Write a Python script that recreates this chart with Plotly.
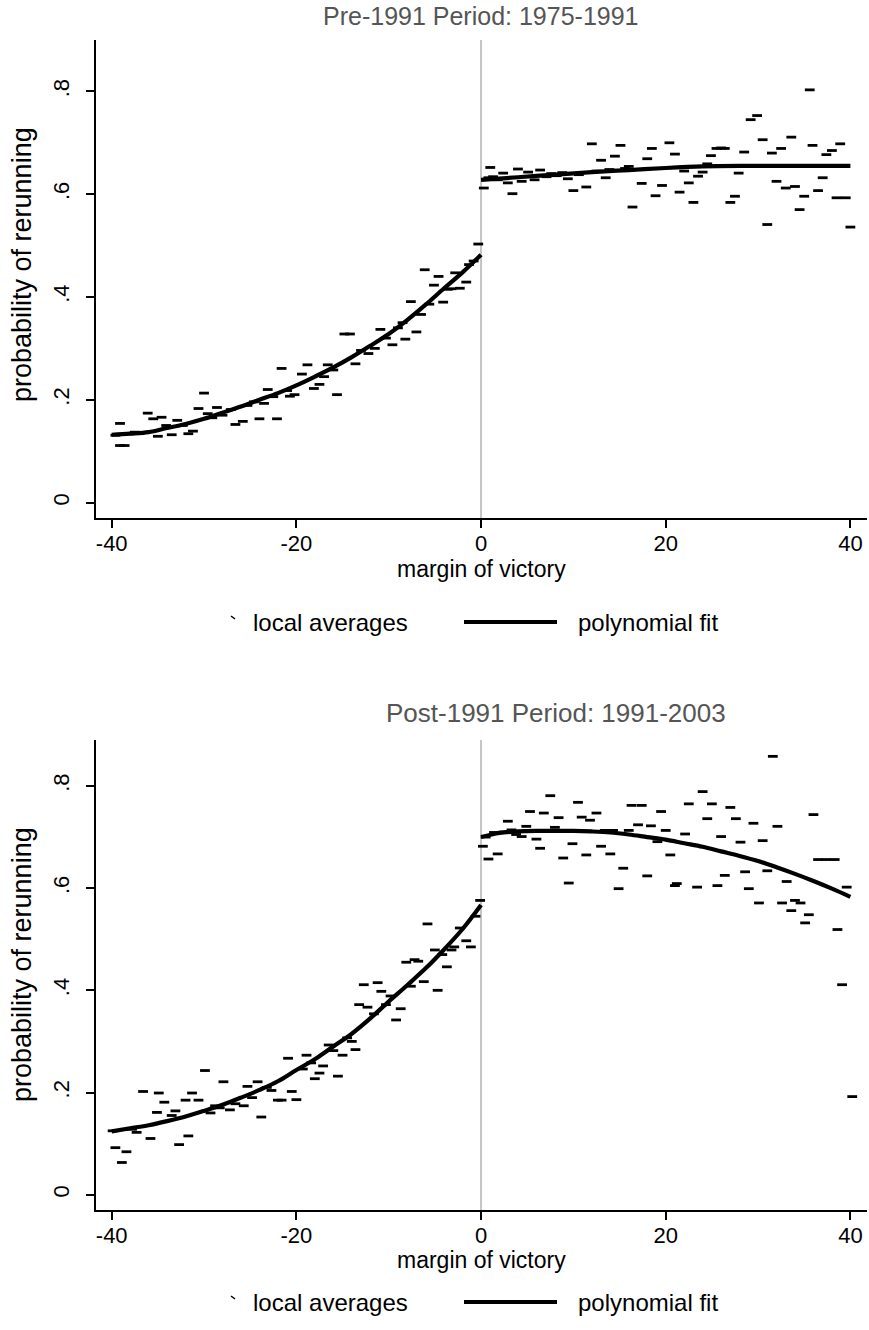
import plotly.graph_objects as go

# ---------------- data ----------------
top_left_x = [-39.6, -39.1, -38.6, -39.1, -38.1, -37.5, -37.0, -36.1, -35.5, -35.0, -34.6, -34.1, -33.5,
              -32.9, -32.3, -31.7, -31.2, -30.6, -30.0, -29.6, -29.1, -28.6, -28.0, -27.1, -26.6, -25.8,
              -25.3, -24.6, -24.0, -23.5, -23.1, -22.5, -22.1, -21.6, -21.0, -20.7, -20.2, -19.4, -18.8,
              -18.1, -17.5, -17.0, -16.6, -16.0, -15.6, -14.8, -14.2, -13.6, -13.0, -12.2, -11.5, -10.9,
              -10.3, -9.6, -9.0, -8.5, -8.2, -7.6, -7.0, -6.5, -6.1, -5.6, -5.1, -4.6, -4.1, -3.6, -3.2,
              -2.8, -2.3, -1.6, -1.3, -0.8, -0.3]
top_left_y = [0.131, 0.111, 0.111, 0.154, 0.134, 0.137, 0.135, 0.174, 0.163, 0.129, 0.166, 0.150, 0.132,
              0.160, 0.150, 0.134, 0.139, 0.183, 0.213, 0.173, 0.165, 0.185, 0.170, 0.181, 0.152, 0.158,
              0.189, 0.196, 0.163, 0.193, 0.220, 0.206, 0.163, 0.261, 0.218, 0.207, 0.210, 0.250, 0.268,
              0.222, 0.230, 0.245, 0.268, 0.258, 0.210, 0.328, 0.328, 0.270, 0.296, 0.290, 0.300, 0.337,
              0.320, 0.307, 0.340, 0.350, 0.318, 0.391, 0.332, 0.366, 0.453, 0.386, 0.423, 0.440, 0.390,
              0.415, 0.416, 0.447, 0.417, 0.429, 0.463, 0.470, 0.503]
top_right_x = [0.3, 0.8, 1.0, 1.3, 1.8, 2.4, 2.9, 3.4, 4.0, 4.4, 5.1, 5.8, 6.4, 7.1, 7.6, 8.2, 8.8, 9.4,
               10.0, 10.6, 11.4, 12.0, 12.5, 13.0, 13.5, 13.9, 14.5, 15.1, 15.6, 16.0, 16.4, 17.0, 17.4,
               18.0, 18.5, 18.9, 19.6, 20.4, 21.0, 21.5, 22.0, 22.5, 23.0, 23.5, 24.0, 24.5, 24.9, 25.5,
               26.0, 26.4, 27.0, 27.5, 27.9, 28.5, 29.2, 29.9, 30.5, 31.0, 31.5, 32.0, 32.5, 33.0, 33.6,
               34.0, 34.5, 35.0, 35.6, 35.9, 36.5, 37.0, 37.4, 38.0, 38.5, 38.9, 39.5, 40.0]
top_right_y = [0.612, 0.632, 0.652, 0.634, 0.628, 0.641, 0.622, 0.601, 0.649, 0.625, 0.643, 0.628, 0.647,
               0.634, 0.640, 0.636, 0.642, 0.630, 0.607, 0.638, 0.614, 0.698, 0.645, 0.666, 0.632, 0.648,
               0.674, 0.695, 0.650, 0.654, 0.575, 0.648, 0.621, 0.669, 0.689, 0.597, 0.617, 0.700, 0.678,
               0.604, 0.645, 0.622, 0.584, 0.635, 0.643, 0.659, 0.675, 0.689, 0.690, 0.689, 0.584, 0.596,
               0.641, 0.682, 0.745, 0.753, 0.706, 0.541, 0.680, 0.625, 0.689, 0.612, 0.711, 0.615, 0.570,
               0.596, 0.803, 0.695, 0.607, 0.632, 0.677, 0.685, 0.593, 0.698, 0.593, 0.536]
top_fit_left_x = [-40, -38, -36, -34, -32, -30, -28, -26, -24, -22, -20, -18, -16, -14, -12, -10, -8, -6, -4, -2, 0]
top_fit_left_y = [0.132, 0.134, 0.137, 0.145, 0.153, 0.163, 0.175, 0.187, 0.200, 0.213, 0.228, 0.245,
                  0.263, 0.283, 0.305, 0.328, 0.355, 0.385, 0.417, 0.448, 0.482]
top_fit_right_x = [0, 4, 8, 12, 16, 20, 24, 28, 32, 36, 40]
top_fit_right_y = [0.628, 0.633, 0.638, 0.643, 0.647, 0.651, 0.654, 0.655, 0.655, 0.655, 0.655]

bot_left_x = [-39.9, -39.6, -38.9, -38.4, -37.8, -37.3, -36.6, -35.8, -35.1, -34.9, -34.3, -33.5, -33.1,
              -32.7, -32.0, -31.7, -31.3, -30.6, -29.9, -29.3, -28.8, -28.3, -27.9, -27.2, -26.6, -25.7,
              -25.3, -24.8, -24.2, -23.8, -23.2, -22.7, -22.0, -21.6, -20.9, -20.5, -20.0, -19.3, -18.9,
              -18.4, -18.0, -17.5, -17.1, -16.5, -16.0, -15.5, -15.0, -14.5, -14.0, -13.6, -13.2, -12.7,
              -12.3, -11.6, -11.2, -10.8, -10.3, -9.8, -9.2, -8.7, -8.1, -7.6, -7.2, -6.8, -6.2, -5.8,
              -5.0, -4.7, -4.2, -3.7, -3.2, -2.9, -2.3, -1.6, -1.1, -0.6, -0.1]
bot_left_y = [0.125, 0.092, 0.063, 0.084, 0.128, 0.122, 0.202, 0.110, 0.161, 0.199, 0.181, 0.155, 0.164,
              0.098, 0.185, 0.115, 0.199, 0.185, 0.243, 0.160, 0.174, 0.170, 0.221, 0.166, 0.178, 0.174,
              0.212, 0.190, 0.221, 0.152, 0.210, 0.204, 0.185, 0.185, 0.267, 0.202, 0.186, 0.246, 0.273,
              0.258, 0.227, 0.238, 0.252, 0.293, 0.282, 0.232, 0.273, 0.307, 0.300, 0.284, 0.372, 0.411,
              0.367, 0.354, 0.415, 0.398, 0.372, 0.389, 0.342, 0.364, 0.455, 0.408, 0.460, 0.457, 0.417,
              0.530, 0.479, 0.400, 0.470, 0.446, 0.479, 0.485, 0.522, 0.497, 0.485, 0.545, 0.576]
bot_right_x = [0.2, 0.5, 0.8, 1.4, 1.8, 2.4, 2.9, 3.3, 3.8, 4.4, 4.9, 5.3, 6.0, 6.4, 6.8, 7.5, 8.0, 8.4,
               8.9, 9.5, 9.9, 10.5, 10.9, 11.4, 11.8, 12.5, 13.0, 13.4, 14.0, 14.3, 14.9, 15.4, 16.0, 16.3,
               17.0, 17.4, 18.0, 18.4, 19.1, 19.5, 20.0, 20.5, 21.0, 21.2, 22.1, 22.5, 23.4, 24.0, 24.5,
               25.0, 25.6, 26.0, 26.4, 27.0, 27.6, 28.1, 28.6, 29.0, 29.5, 30.1, 30.5, 31.0, 31.6, 32.1,
               32.6, 33.1, 33.6, 34.0, 34.6, 35.1, 35.5, 36.0, 36.5, 37.4, 38.3, 38.6, 39.1, 39.6, 40.2]
bot_right_y = [0.682, 0.700, 0.657, 0.709, 0.667, 0.710, 0.731, 0.714, 0.705, 0.701, 0.721, 0.750, 0.696,
               0.678, 0.747, 0.781, 0.719, 0.738, 0.659, 0.610, 0.687, 0.768, 0.739, 0.665, 0.733, 0.747,
               0.682, 0.713, 0.667, 0.713, 0.599, 0.639, 0.713, 0.762, 0.724, 0.762, 0.624, 0.722, 0.691,
               0.750, 0.713, 0.665, 0.605, 0.609, 0.706, 0.765, 0.602, 0.789, 0.736, 0.765, 0.605, 0.701,
               0.625, 0.758, 0.736, 0.690, 0.632, 0.599, 0.727, 0.571, 0.693, 0.634, 0.858, 0.721, 0.571,
               0.613, 0.556, 0.576, 0.571, 0.532, 0.548, 0.744, 0.656, 0.656, 0.656, 0.519, 0.411, 0.602,
               0.192]
bot_fit_left_x = [-40, -38, -36, -34, -32, -30, -28, -26, -24, -22, -20, -18, -16, -14, -12, -10, -8, -6, -4, -2, 0]
bot_fit_left_y = [0.124, 0.130, 0.136, 0.144, 0.153, 0.164, 0.176, 0.190, 0.205, 0.222, 0.244, 0.265,
                  0.290, 0.315, 0.345, 0.378, 0.410, 0.443, 0.480, 0.520, 0.567]
bot_fit_right_x = [0, 2, 4, 6, 8, 10, 12, 14, 16, 18, 20, 22, 24, 26, 28, 30, 32, 34, 36, 38, 40]
bot_fit_right_y = [0.700, 0.708, 0.711, 0.712, 0.712, 0.712, 0.711, 0.709, 0.705, 0.700, 0.695, 0.688,
                   0.681, 0.672, 0.663, 0.653, 0.641, 0.628, 0.614, 0.599, 0.583]

x_ticks = [-40, -20, 0, 20, 40]
x_tick_text = ["-40", "-20", "0", "20", "40"]
y_ticks = [0, 0.2, 0.4, 0.6, 0.8]
y_tick_text = ["0", ".2", ".4", ".6", ".8"]
titles = ["Pre-1991 Period: 1975-1991", "Post-1991 Period: 1991-2003"]

# ---------------- figure ----------------
W, H = 869, 1330
FONT = "Liberation Sans, Arial, sans-serif"
FS = 21
fig = go.Figure()

marker = dict(symbol="line-ew", size=7, color="black", line=dict(width=2.8, color="black"))
fitline = dict(color="black", width=4.2, shape="spline")

panels = [
    ("x", "y", top_left_x, top_left_y, top_right_x, top_right_y,
     top_fit_left_x, top_fit_left_y, top_fit_right_x, top_fit_right_y),
    ("x2", "y2", bot_left_x, bot_left_y, bot_right_x, bot_right_y,
     bot_fit_left_x, bot_fit_left_y, bot_fit_right_x, bot_fit_right_y),
]
for xa, ya, lx, ly, rx, ry, flx, fly, frx, fry in panels:
    fig.add_trace(go.Scatter(x=lx + rx, y=ly + ry, mode="markers", marker=marker,
                             xaxis=xa, yaxis=ya, showlegend=False, hoverinfo="skip"))
    fig.add_trace(go.Scatter(x=flx, y=fly, mode="lines", line=fitline,
                             xaxis=xa, yaxis=ya, showlegend=False))
    fig.add_trace(go.Scatter(x=frx, y=fry, mode="lines", line=fitline,
                             xaxis=xa, yaxis=ya, showlegend=False))

def px_x(p):
    return p / W

def px_y(p):
    return 1 - p / H

xdom = [px_x(96), px_x(867)]
top_dom = [px_y(518), px_y(40)]
bot_dom = [px_y(1210), px_y(740)]

axis_common = dict(showgrid=False, zeroline=False, showline=True, linecolor="black", linewidth=1.5,
                   ticks="outside", ticklen=8, tickwidth=1.5, tickcolor="black", automargin=False,
                   tickfont=dict(family=FONT, size=FS + 1, color="black"))

fig.update_layout(
    width=W, height=H, margin=dict(l=0, r=0, t=0, b=0),
    paper_bgcolor="white", plot_bgcolor="white", showlegend=False,
    xaxis=dict(domain=xdom, range=[-41.7, 41.8], anchor="y", tickvals=x_ticks, ticktext=x_tick_text,
               ticklabelstandoff=-3, **axis_common),
    yaxis=dict(domain=top_dom, range=[-0.03, 0.9], anchor="x", tickvals=y_ticks, ticktext=y_tick_text,
               tickangle=-90, ticklabelstandoff=8, **axis_common),
    xaxis2=dict(domain=xdom, range=[-41.7, 41.8], anchor="y2", tickvals=x_ticks, ticktext=x_tick_text,
                ticklabelstandoff=-3, **axis_common),
    yaxis2=dict(domain=bot_dom, range=[-0.03, 0.89], anchor="x2", tickvals=y_ticks, ticktext=y_tick_text,
                tickangle=-90, ticklabelstandoff=8, **axis_common),
)

# vertical reference line at 0
for xa, ya in (("x", "y"), ("x2", "y2")):
    fig.add_shape(type="line", xref=xa, yref=ya + " domain", x0=0, x1=0, y0=0, y1=1,
                  line=dict(color="#c4c4c4", width=2), layer="below")

def text(s, x, y, size, color="black", angle=0, xanchor="center"):
    fig.add_annotation(text=s, x=px_x(x), y=px_y(y), xref="paper", yref="paper", showarrow=False,
                       xanchor=xanchor, yanchor="middle", textangle=angle, borderpad=0,
                       font=dict(family=FONT, size=size, color=color))

# titles and axis titles
text(titles[0], 481, 16, 25, "#555555")
text(titles[1], 556, 713, 26, "#555555")
for ycen, ytit in ((569, 265), (1260, 965)):
    text("margin of victory", 481, ycen, 23)
    text("probability of rerunning", 22, ytit, 27, angle=-90)

# legends
for ly in (622, 1302):
    fig.add_shape(type="line", xref="paper", yref="paper", x0=px_x(231), x1=px_x(235),
                  y0=px_y(ly - 6), y1=px_y(ly - 3), line=dict(color="black", width=1.5))
    text("local averages", 252, ly, 24, xanchor="left")
    fig.add_shape(type="line", xref="paper", yref="paper", x0=px_x(464), x1=px_x(557),
                  y0=px_y(ly), y1=px_y(ly), line=dict(color="black", width=4))
    text("polynomial fit", 577, ly, 24, xanchor="left")

fig.write_html("out.html", config={"displayModeBar": False},
               post_script="document.body.style.margin='0';document.body.style.overflow='hidden';")
